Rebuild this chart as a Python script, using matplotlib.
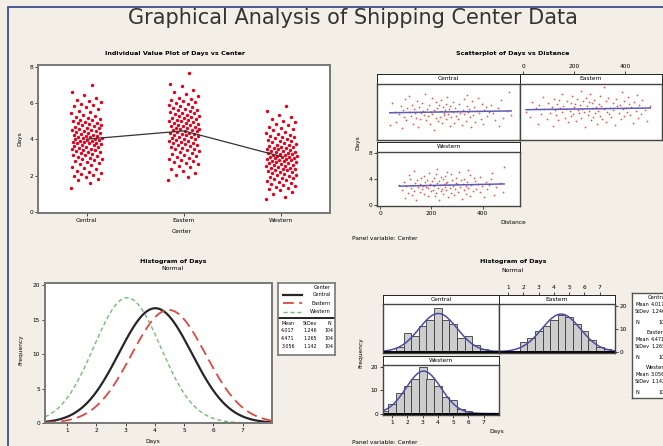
import numpy as np
import matplotlib
matplotlib.use('Agg')
import matplotlib.pyplot as plt
from matplotlib.patches import Rectangle

# ---- data ----
centers = ['Central', 'Eastern', 'Western']

central_days = [
    1.35, 1.62,
    1.78, 1.84, 1.91, 1.97, 2.04, 2.09, 2.15, 2.21,
    2.28, 2.35, 2.42, 2.5, 2.57, 2.63, 2.7,
    2.77, 2.81, 2.86, 2.9, 2.95, 2.99, 3.03, 3.08, 3.12, 3.17, 3.22,
    3.26, 3.29, 3.33, 3.36, 3.4, 3.43, 3.47, 3.5, 3.54, 3.57, 3.61, 3.64, 3.68, 3.72,
    3.76, 3.78, 3.81, 3.83, 3.86, 3.88, 3.91, 3.94, 3.96, 3.99, 4.01, 4.04, 4.07, 4.09,
    4.12, 4.15, 4.18, 4.2, 4.23,
    4.27, 4.3, 4.34, 4.37, 4.4, 4.44, 4.47, 4.51, 4.54, 4.58, 4.61, 4.65, 4.68, 4.72,
    4.77, 4.81, 4.85, 4.89, 4.93, 4.97, 5.01, 5.05, 5.09, 5.13, 5.18, 5.22,
    5.28, 5.36, 5.43, 5.51, 5.59, 5.67,
    5.77, 5.84, 5.9, 5.97, 6.04, 6.11, 6.19,
    6.3, 6.46, 6.62,
    6.98]

eastern_days = [
    1.77, 1.92, 2.06, 2.18,
    2.29, 2.37, 2.46, 2.55, 2.63, 2.71,
    2.78, 2.83, 2.89, 2.94, 3.0, 3.06, 3.11, 3.17, 3.22,
    3.27, 3.31, 3.36, 3.4, 3.45, 3.49, 3.54, 3.58, 3.63, 3.67, 3.72,
    3.76, 3.79, 3.83, 3.86, 3.9, 3.93, 3.97, 4.0, 4.04, 4.07, 4.11, 4.15, 4.18, 4.22,
    4.26, 4.29, 4.32, 4.35, 4.38, 4.41, 4.44, 4.47, 4.5, 4.53, 4.56, 4.59, 4.62, 4.65,
    4.68, 4.72,
    4.76, 4.79, 4.82, 4.86, 4.89, 4.92, 4.96, 4.99, 5.02, 5.06, 5.09, 5.13, 5.16, 5.2, 5.23,
    5.27, 5.31, 5.35, 5.39, 5.43, 5.47, 5.52, 5.56, 5.6, 5.64, 5.68, 5.72,
    5.78, 5.83, 5.89, 5.94, 6.0, 6.06, 6.12, 6.17, 6.22,
    6.3, 6.41, 6.52, 6.63, 6.71,
    6.92, 7.04,
    7.68]

western_days = [
    0.72,
    0.84, 0.97, 1.08, 1.19,
    1.27, 1.32, 1.37, 1.42, 1.48, 1.53, 1.59, 1.65, 1.71,
    1.77, 1.81, 1.85, 1.9, 1.94, 1.98, 2.02, 2.07, 2.11, 2.15, 2.19, 2.23,
    2.27, 2.3, 2.33, 2.36, 2.39, 2.42, 2.45, 2.48, 2.52, 2.55, 2.58, 2.61, 2.64, 2.68, 2.72,
    2.76, 2.78, 2.81, 2.83, 2.86, 2.88, 2.91, 2.93, 2.96, 2.98, 3.01, 3.03, 3.06, 3.08,
    3.11, 3.13, 3.16, 3.18, 3.21, 3.23,
    3.27, 3.3, 3.33, 3.36, 3.39, 3.42, 3.45, 3.48, 3.52, 3.55, 3.58, 3.61, 3.64, 3.68, 3.72,
    3.77, 3.81, 3.85, 3.9, 3.94, 3.98, 4.02, 4.07, 4.11, 4.15, 4.19, 4.23,
    4.28, 4.35, 4.42, 4.5, 4.57, 4.64, 4.71,
    4.78, 4.86, 4.95, 5.04, 5.13, 5.21,
    5.34, 5.58,
    5.82]

central_dist = [
    212, 87, 356, 149, 463, 271, 38, 318, 195, 402, 129, 288, 241,
    371, 64, 226, 335, 178, 447, 102, 259, 392, 156, 305, 219, 481,
    142, 277, 350, 93, 233, 418, 186, 296, 120, 364, 251, 512, 171,
    329, 75, 264, 203, 385, 137, 312, 440, 248, 160, 343, 59, 283,
    197, 426, 115, 301, 236, 379, 168, 494, 254, 88, 322, 209, 405,
    133, 267, 348, 182, 459, 221, 106, 293, 366, 245, 151, 415, 274,
    80, 338, 190, 431, 228, 125, 309, 257, 396, 164, 47, 286, 217,
    359, 144, 471, 239, 98, 327, 201, 384, 262, 113, 341, 175, 505]

eastern_dist = [
    245, 118, 362, 57, 291, 433, 176, 324, 208, 487, 139, 266, 385,
    94, 312, 229, 451, 163, 347, 275, 26, 398, 187, 303, 131, 419,
    254, 71, 338, 196, 463, 221, 107, 376, 283, 152, 409, 240, 331,
    12, 296, 183, 442, 259, 125, 355, 214, 479, 84, 318, 167, 392,
    231, 146, 406, 272, 49, 343, 199, 425, 286, 113, 369, 250, 500,
    158, 307, 62, 381, 224, 455, 135, 298, 204, 415, 270, 99, 352,
    189, 437, 261, 36, 326, 171, 398, 237, 143, 468, 279, 211, 364,
    121, 335, 248, 414, 79, 301, 193, 447, 265, 155, 389, 228, 320]

western_dist = [
    231, 142, 318, 97, 264, 405, 187, 352, 215, 126, 289, 443, 246,
    173, 334, 108, 277, 219, 391, 154, 305, 478, 239, 198, 361, 134,
    258, 86, 326, 206, 417, 163, 292, 241, 374, 119, 272, 188, 345,
    226, 452, 149, 311, 253, 181, 398, 101, 284, 212, 337, 167, 425,
    269, 128, 356, 234, 75, 301, 195, 383, 248, 157, 322, 221, 467,
    138, 295, 256, 412, 176, 339, 92, 263, 228, 371, 203, 314, 146,
    281, 184, 432, 244, 117, 329, 209, 366, 159, 297, 236, 388, 172,
    252, 349, 113, 275, 218, 436, 191, 308, 261, 131, 342, 224, 484]

all_days = [np.array(central_days), np.array(eastern_days), np.array(western_days)]
all_dist = [np.array(central_dist), np.array(eastern_dist), np.array(western_dist)]

# ---- layout helpers (pixel coords of a 663x446 canvas) ----
W, H = 663, 446
BG = '#f3efe7'
RED = '#e3001b'
FS = 4.2


def box(l, t, r, b):
    return [l / W, 1 - b / H, (r - l) / W, (b - t) / H]


def ftext(x, y, s, **kw):
    kw.setdefault('fontsize', FS)
    kw.setdefault('ha', 'center')
    kw.setdefault('va', 'center')
    fig.text(x / W, 1 - y / H, s, **kw)


def style_ax(ax, color='#777777', lw=1.4):
    for sp in ax.spines.values():
        sp.set_color(color)
        sp.set_linewidth(lw)
    ax.tick_params(labelsize=FS, length=2, width=0.5, pad=1.5)


def normal_curve(d, xs, binw=0.5):
    m, s = d.mean(), d.std(ddof=1)
    return len(d) * binw * np.exp(-(xs - m) ** 2 / (2 * s ** 2)) / (s * np.sqrt(2 * np.pi))


def strip(l, t, r, b, label):
    sa = fig.add_axes(box(l, t, r, b))
    sa.set_facecolor('white')
    sa.set_xticks([])
    sa.set_yticks([])
    for sp in sa.spines.values():
        sp.set_color('#222222')
        sp.set_linewidth(0.7)
    sa.text(0.5, 0.5, label, transform=sa.transAxes, ha='center', va='center', fontsize=FS)
    return sa


def top_ticks(sa, lim, ticks):
    # axis labels above the strip header, like Minitab's alternating panel axes
    sa.set_xlim(*lim)
    sa.set_xticks(ticks)
    sa.tick_params(bottom=False, labelbottom=False, top=True, labeltop=True,
                   labelsize=FS, length=2, width=0.5, pad=1.5)


fig = plt.figure(figsize=(6.63, 4.46), dpi=100, facecolor=BG)
fig.patches.append(Rectangle((8 / W, -0.1), 1.2, 1.1 - 7 / H, transform=fig.transFigure,
                             fill=False, edgecolor='#3b4f8c', lw=1.3))

ftext(353, 18, 'Graphical Analysis of Shipping Center Data', fontsize=15, color='#333333')

# ---- individual value plot ----
ax1 = fig.add_axes(box(38, 65, 330, 213))
for i, d in enumerate(all_days):
    jit = (np.arange(len(d)) * 0.618034) % 1 - 0.5
    ax1.scatter(i + 1 + jit * 0.32, d, s=6, color=RED, lw=0, zorder=2)
means = [d.mean() for d in all_days]
ax1.plot([1, 2, 3], means, color='#333333', lw=0.9, zorder=3)
ax1.set_xlim(0.5, 3.5)
ax1.set_ylim(-0.05, 8.1)
ax1.set_xticks([1, 2, 3], centers)
ax1.set_yticks([0, 2, 4, 6, 8])
style_ax(ax1)
ftext(175, 53, 'Individual Value Plot of Days vs Center', fontweight='bold', fontsize=4.6)
ftext(182, 232, 'Center')
ftext(20, 139, 'Days', rotation=90)

# ---- scatterplot panels ----
sc_rects = [(377, 74, 520, 140), (520, 74, 662, 140), (377, 142, 520, 206)]
for k, (name, d, x) in enumerate(zip(centers, all_days, all_dist)):
    l, t, r, b = sc_rects[k]
    sa = strip(l, t, r, t + 10, name)
    ax = fig.add_axes(box(l, t + 10, r, b))
    ax.scatter(x, d, s=1.6, color='#e8463c', lw=0, alpha=0.9)
    slope, icpt = np.polyfit(x, d, 1)
    xl = np.array([x.min(), x.max()])
    ax.plot(xl, icpt + slope * xl, color='#5b5bb8', lw=1.1)
    ax.set_xlim(-12, 546)
    ax.set_ylim(-0.15, 8.15)
    style_ax(ax, color='#444444', lw=1.0)
    ax.set_xticks([0, 200, 400])
    ax.set_yticks([0, 4, 8])
    if name == 'Western':
        ax.tick_params(left=True, bottom=True, labelleft=True, labelbottom=True)
    elif name == 'Eastern':
        ax.tick_params(left=False, bottom=False, labelleft=False, labelbottom=False,
                       right=True, labelright=False)
        top_ticks(sa, (-12, 546), [0, 200, 400])
    else:
        ax.tick_params(left=False, bottom=False, labelleft=False, labelbottom=False)
ftext(513, 54, 'Scatterplot of Days vs Distance', fontweight='bold', fontsize=4.6)
ftext(513, 223, 'Distance')
ftext(358, 143, 'Days', rotation=90)
ftext(352, 238, 'Panel variable: Center', ha='left')

# ---- histogram with normal fits (curves only) ----
ax3 = fig.add_axes(box(45, 283, 272, 423))
xs = np.linspace(0.25, 8.0, 300)
curve_style = {'Central': dict(color='#262626', lw=1.6, ls='-'),
               'Eastern': dict(color='#e0473f', lw=1.3, ls=(0, (6, 3))),
               'Western': dict(color='#72bd72', lw=1.0, ls=(0, (3, 2)))}
for name, d in zip(centers, all_days):
    ax3.plot(xs, normal_curve(d, xs), **curve_style[name])
ax3.set_xlim(0.25, 8.0)
ax3.set_ylim(0, 20.3)
ax3.set_xticks(range(1, 8))
ax3.set_yticks([0, 5, 10, 15, 20])
style_ax(ax3)
ftext(173, 261, 'Histogram of Days', fontweight='bold', fontsize=4.6)
ftext(173, 268, 'Normal', fontsize=4.4)
ftext(153, 441, 'Days')
ftext(21, 350, 'Frequency', rotation=90)

# legend / stats table
lg = fig.add_axes(box(278, 283, 335, 355))
lg.set_xlim(278, 335)
lg.set_ylim(355, 283)
lg.set_xticks([])
lg.set_yticks([])
style_ax(lg, lw=1.2)
lg.text(331, 287.5, 'Center', ha='right', va='center', fontsize=3.6)
for j, name in enumerate(centers):
    yy = 295 + j * 8.3
    lg.plot([283, 302], [yy, yy], **curve_style[name])
    lg.text(331, yy, name, ha='right', va='center', fontsize=3.6)
lg.plot([278, 335], [318, 318], color='#222222', lw=1.4)
lg.text(288, 323.5, 'Mean', ha='center', va='center', fontsize=3.4)
lg.text(310, 323.5, 'StDev', ha='center', va='center', fontsize=3.4)
lg.text(331, 323.5, 'N', ha='right', va='center', fontsize=3.4)
for j, d in enumerate(all_days):
    yy = 331 + j * 7.5
    lg.text(288, yy, f'{d.mean():.3f}', ha='center', va='center', fontsize=3.4)
    lg.text(310, yy, f'{d.std(ddof=1):.3f}', ha='center', va='center', fontsize=3.4)
    lg.text(333, yy, f'{len(d)}', ha='right', va='center', fontsize=3.4)

# ---- paneled histograms ----
h_rects = [(383, 295, 499, 353), (499, 295, 615, 353), (383, 356, 499, 415)]
bins = np.arange(0.25, 8.3, 0.5)
xs2 = np.linspace(0.4, 8.0, 300)
for k, (name, d) in enumerate(zip(centers, all_days)):
    l, t, r, b = h_rects[k]
    sa = strip(l, t, r, t + 9, name)
    ax = fig.add_axes(box(l, t + 9, r, b))
    ax.hist(d, bins=bins, color='#cdcdcd', edgecolor='#3a3a3a', lw=0.6)
    ax.plot(xs2, normal_curve(d, xs2), color='#4b4ba8', lw=1.1)
    ax.axhline(0, color='black', lw=1.4)
    ax.set_xlim(0.4, 8.0)
    ax.set_ylim(-0.6, 20.8)
    style_ax(ax, color='#444444', lw=1.0)
    ax.set_xticks(range(1, 8))
    ax.set_yticks([0, 10, 20])
    if name == 'Western':
        ax.tick_params(left=True, bottom=True, labelleft=True, labelbottom=True)
    elif name == 'Eastern':
        ax.tick_params(left=False, bottom=False, labelleft=False, labelbottom=False,
                       right=True, labelright=True)
        top_ticks(sa, (0.4, 8.0), range(1, 8))
    else:
        ax.tick_params(left=False, bottom=False, labelleft=False, labelbottom=False)
ftext(513, 262, 'Histogram of Days', fontweight='bold', fontsize=4.6)
ftext(513, 271, 'Normal', fontsize=4.4)
ftext(497, 432, 'Days')
ftext(361, 353, 'Frequency', rotation=90)
ftext(352, 443, 'Panel variable: Center', ha='left')

# stats box on the right (runs off the canvas like the original)
sb = fig.add_axes(box(632, 293, 700, 398))
sb.set_xlim(632, 700)
sb.set_ylim(398, 293)
sb.set_xticks([])
sb.set_yticks([])
style_ax(sb, color='#555555', lw=1.0)
for j, (name, d) in enumerate(zip(centers, all_days)):
    y0 = 298 + j * 35
    sb.text(657, y0, name, ha='center', va='center', fontsize=3.8)
    sb.text(635, y0 + 7, 'Mean', ha='left', va='center', fontsize=3.6)
    sb.text(651, y0 + 7, f'{d.mean():.3f}', ha='left', va='center', fontsize=3.6)
    sb.text(635, y0 + 14, 'StDev', ha='left', va='center', fontsize=3.6)
    sb.text(651, y0 + 14, f'{d.std(ddof=1):.3f}', ha='left', va='center', fontsize=3.6)
    sb.text(635, y0 + 25, 'N', ha='left', va='center', fontsize=3.6)
    sb.text(668, y0 + 25, f'{len(d)}', ha='right', va='center', fontsize=3.6)

fig.savefig('out.png', dpi=100, facecolor=BG)
